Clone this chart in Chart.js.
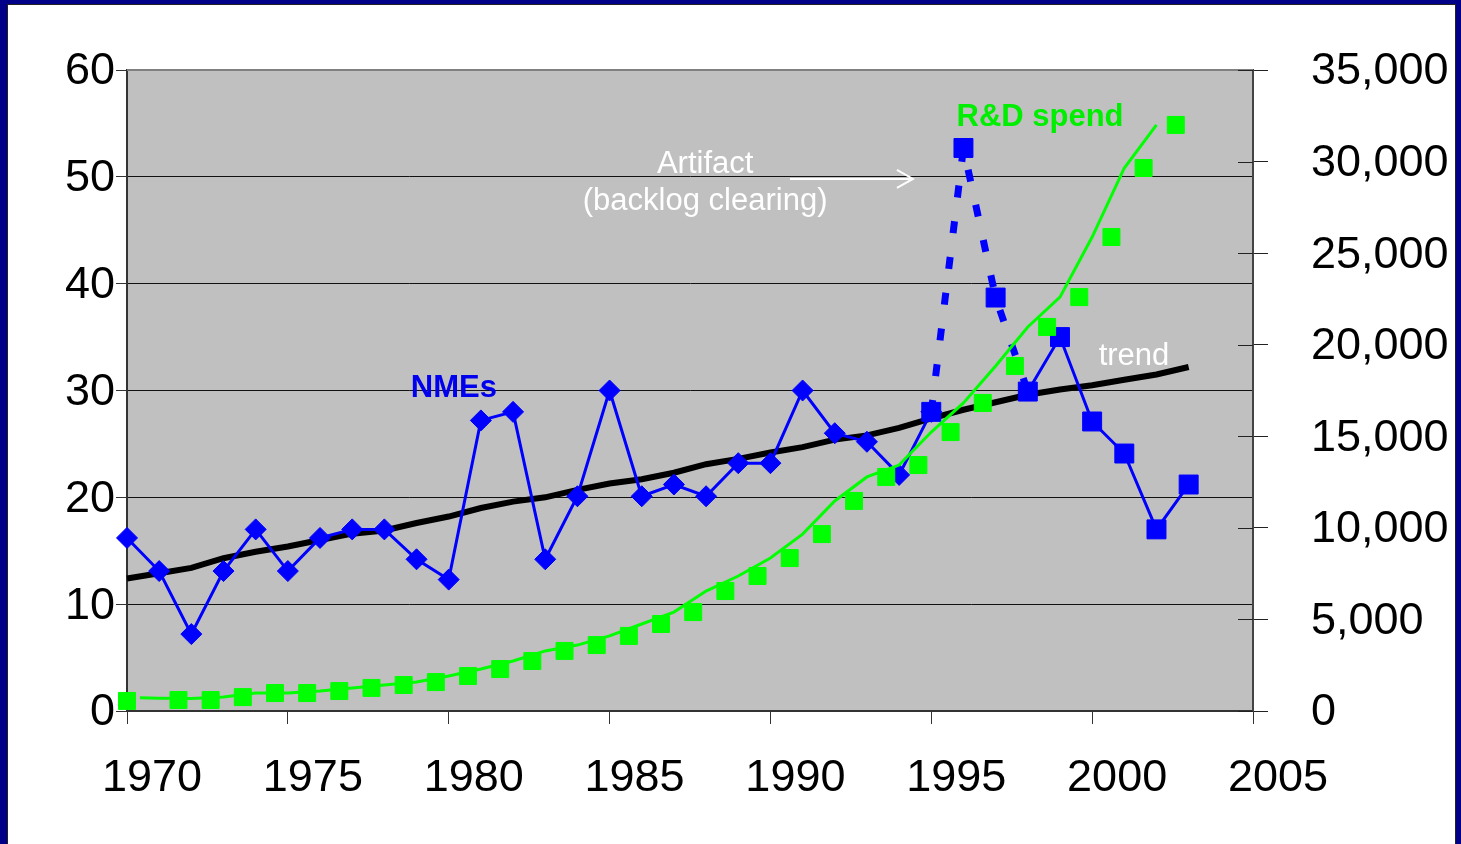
<!DOCTYPE html>
<html>
<head>
<meta charset="utf-8">
<title>NMEs and R&amp;D spend</title>
<script src="https://cdn.jsdelivr.net/npm/chart.js@4.4.1/dist/chart.umd.min.js"></script>
<style>
  html, body { margin: 0; padding: 0; }
  body { background: #000088; width: 1461px; height: 844px; overflow: hidden; position: relative; }
  #panel { position: absolute; left: 7px; top: 4px; width: 1447px; height: 900px; background: #fff; border: 1px solid #222; }
  #chart { position: absolute; left: 0; top: 0; }
</style>
</head>
<body>
<div id="panel"></div>
<canvas id="chart" width="1461" height="844"></canvas>
<script>
// NMEs per year (left axis), up to 1995 drawn with diamonds
const nmeYears = [1970, 1971, 1972, 1973, 1974, 1975, 1976, 1977, 1978, 1979, 1980, 1981, 1982,
                  1983, 1984, 1985, 1986, 1987, 1988, 1989, 1990, 1991, 1992, 1993, 1994, 1995];
const nmeCounts = [16.2, 13.1, 7.2, 13.1, 17, 13.1, 16.2, 17, 17, 14.2, 12.3, 27.2, 28,
                   14.2, 20.1, 30, 20.1, 21.2, 20.1, 23.2, 23.2, 30, 26, 25.2, 22.1, 28];

// later NMEs (squares), 1995-1998 is the backlog artifact (dashed)
const lateYears = [1995, 1996, 1997, 1998, 1999, 2000, 2001, 2002, 2003];
const lateCounts = [28, 52.7, 38.7, 29.9, 35, 27.1, 24.1, 17, 21.2];
const artifactEnd = 1998;

// trend line (left axis)
const trendYears = [1970, 1971, 1972, 1973, 1974, 1975, 1976, 1977, 1978, 1979, 1980, 1981,
                    1982, 1983, 1984, 1985, 1986, 1987, 1988, 1989, 1990, 1991, 1992, 1993,
                    1994, 1995, 1996, 1997, 1998, 1999, 2000, 2001, 2002, 2003];
const trendValues = [12.4, 12.9, 13.4, 14.3, 14.9, 15.4, 16.0, 16.6, 16.9, 17.6, 18.2, 19.0,
                     19.6, 20.0, 20.7, 21.3, 21.7, 22.3, 23.1, 23.6, 24.2, 24.7, 25.4, 25.8,
                     26.5, 27.4, 28.2, 28.9, 29.6, 30.1, 30.5, 31.0, 31.5, 32.2];

// R&D spend (right axis) - line at the year, squares plotted a bit later
const rdYears = [1970.4, 1971, 1972, 1973, 1974, 1975, 1976, 1977, 1978, 1979, 1980, 1981, 1982,
                 1983, 1984, 1985, 1986, 1987, 1988, 1989, 1990, 1991, 1992, 1993, 1994,
                 1995, 1996, 1997, 1998, 1999, 2000, 2001, 2002];
const rdSpend = [720, 700, 680, 760, 980, 980, 1090, 1260, 1420, 1580, 1910, 2290, 2730,
                 3280, 3600, 4100, 4750, 5400, 6550, 7370, 8350, 9660, 11470, 12780, 13430,
                 15230, 16820, 18840, 20970, 22600, 25880, 29650, 32000];
const rdSquareYears = [1970, 1971.6, 1972.6, 1973.6, 1974.6, 1975.6, 1976.6, 1977.6, 1978.6,
                       1979.6, 1980.6, 1981.6, 1982.6, 1983.6, 1984.6, 1985.6, 1986.6, 1987.6,
                       1988.6, 1989.6, 1990.6, 1991.6, 1992.6, 1993.6, 1994.6, 1995.6, 1996.6,
                       1997.6, 1998.6, 1999.6, 2000.6, 2001.6, 2002.6];
const rdSquareSpend = [550, 600, 600, 760, 980, 980, 1090, 1260, 1420, 1580, 1910, 2290, 2730,
                       3280, 3600, 4100, 4750, 5400, 6550, 7370, 8350, 9660, 11470, 12780, 13430,
                       15230, 16820, 18840, 20970, 22600, 25880, 29650, 32000];

const xTicks = [1970, 1975, 1980, 1985, 1990, 1995, 2000, 2005];

const FONT = "'Liberation Sans', Arial, sans-serif";
const tickFont = { family: FONT, size: 45 };

const pts = (xs, ys) => xs.map((x, i) => ({ x: x, y: ys[i] }));

//plot background, top border, inner half of right ticks, text notes and arrow
const decorations = {
    id: "decorations",
    beforeDraw(chart) {
        const a = chart.chartArea;
        const ctx = chart.ctx;
        ctx.save();
        ctx.fillStyle = "#c0c0c0";
        ctx.fillRect(a.left, a.top, a.right - a.left, a.bottom - a.top);
        ctx.restore();
    },
    afterDraw(chart) {
        const a = chart.chartArea;
        const ctx = chart.ctx;
        const x = chart.scales.x;
        const y = chart.scales.y;
        const yR = chart.scales.yR;

        ctx.save();
        //top border
        ctx.strokeStyle = "#808080";
        ctx.lineWidth = 2;
        ctx.beginPath();
        ctx.moveTo(a.left, a.top);
        ctx.lineTo(a.right, a.top);
        ctx.stroke();

        //right axis ticks cross the axis
        ctx.strokeStyle = "#222";
        ctx.lineWidth = 1;
        yR.ticks.forEach((t) => {
            const py = Math.round(yR.getPixelForValue(t.value)) + 0.5;
            ctx.beginPath();
            ctx.moveTo(a.right - 15, py);
            ctx.lineTo(a.right, py);
            ctx.stroke();
        });

        //text notes
        const notes = [
            { text: "NMEs", at: [1980.16, 29.4], color: "#0000ee", bold: true },
            { text: "R&D spend", at: [1998.38, 54.8], color: "#00ee00", bold: true },
            { text: "Artifact", at: [1987.97, 50.4], color: "#ffffff", bold: false },
            { text: "(backlog clearing)", at: [1987.97, 46.9], color: "#ffffff", bold: false },
            { text: "trend", at: [2001.3, 32.4], color: "#ffffff", bold: false },
        ];
        ctx.textAlign = "center";
        ctx.textBaseline = "alphabetic";
        notes.forEach((n) => {
            ctx.font = (n.bold ? "bold " : "") + "31px " + FONT;
            ctx.fillStyle = n.color;
            ctx.fillText(n.text, x.getPixelForValue(n.at[0]), y.getPixelForValue(n.at[1]));
        });

        //arrow to the artifact
        const ax0 = x.getPixelForValue(1990.61);
        const ax1 = x.getPixelForValue(1994.43);
        const ay = y.getPixelForValue(49.8);
        ctx.strokeStyle = "#ffffff";
        ctx.lineWidth = 2;
        ctx.beginPath();
        ctx.moveTo(ax0, ay);
        ctx.lineTo(ax1, ay);
        ctx.moveTo(ax1 - 16, ay - 9);
        ctx.lineTo(ax1, ay);
        ctx.lineTo(ax1 - 16, ay + 9);
        ctx.stroke();
        ctx.restore();
    },
};

const isArtifact = (ctx) => ctx.p1.parsed.x <= artifactEnd;

const chart = new Chart(document.getElementById("chart"), {
    type: "line",
    data: {
        datasets: [
            {
                label: "R&D spend (squares)",
                data: pts(rdSquareYears, rdSquareSpend),
                yAxisID: "yR",
                showLine: false,
                pointStyle: "rect",
                pointRadius: 12,
                pointBorderWidth: 1,
                pointBackgroundColor: "#00ff00",
                pointBorderColor: "#00ff00",
                clip: false,
            },
            {
                label: "R&D spend",
                data: pts(rdYears, rdSpend),
                yAxisID: "yR",
                borderColor: "#00ff00",
                borderWidth: 3,
                pointRadius: 0,
                tension: 0,
                clip: false,
            },
            {
                label: "NMEs (late)",
                data: pts(lateYears, lateCounts),
                yAxisID: "y",
                borderColor: "#0000ff",
                borderWidth: 3,
                pointStyle: "rect",
                pointRadius: 13.4,
                pointBorderWidth: 1,
                pointBackgroundColor: "#0000ff",
                pointBorderColor: "#0000ff",
                segment: {
                    borderDash: (ctx) => (isArtifact(ctx) ? [12, 24] : undefined),
                    borderWidth: (ctx) => (isArtifact(ctx) ? 7 : 3),
                },
                borderCapStyle: "butt",
                clip: false,
            },
            {
                label: "NMEs",
                data: pts(nmeYears, nmeCounts),
                yAxisID: "y",
                borderColor: "#0000ff",
                borderWidth: 3,
                pointStyle: "rectRot",
                pointRadius: 10.5,
                pointBorderWidth: 1,
                pointBackgroundColor: "#0000ff",
                pointBorderColor: "#0000ff",
                clip: false,
            },
            {
                label: "trend",
                data: pts(trendYears, trendValues),
                yAxisID: "y",
                borderColor: "#000000",
                borderWidth: 6,
                pointRadius: 0,
                clip: false,
            },
        ],
    },
    options: {
        responsive: false,
        animation: false,
        devicePixelRatio: 1,
        events: [],
        layout: { padding: { top: 70, left: 0, right: 0, bottom: 0 } },
        plugins: {
            legend: { display: false },
            tooltip: { enabled: false },
        },
        scales: {
            x: {
                type: "linear",
                min: 1970,
                max: 2005,
                afterFit: (s) => { s.height = 133; },
                afterBuildTicks: (s) => { s.ticks = xTicks.map((v) => ({ value: v })); },
                ticks: {
                    callback: (v) => String(v),
                    font: tickFont,
                    color: "#000",
                    padding: 28,
                    labelOffset: 25,
                    maxRotation: 0,
                    autoSkip: false,
                },
                grid: { drawOnChartArea: false, tickLength: 13, tickColor: "#333", lineWidth: 1 },
                border: { color: "#333", width: 2 },
            },
            y: {
                position: "left",
                min: 0,
                max: 60,
                afterFit: (s) => { s.width = 127; },
                ticks: { stepSize: 10, font: tickFont, color: "#000", padding: 1, labelOffset: 2 },
                grid: { color: "#111", lineWidth: 1, tickLength: 11, tickColor: "#333" },
                border: { color: "#333", width: 2 },
            },
            yR: {
                position: "right",
                min: 0,
                max: 35000,
                afterFit: (s) => { s.width = 208; },
                ticks: {
                    stepSize: 5000,
                    font: tickFont,
                    color: "#000",
                    padding: 43,
                    labelOffset: 2,
                    callback: (v) => v.toLocaleString("en-US"),
                },
                grid: { drawOnChartArea: false, tickLength: 15, tickColor: "#222", lineWidth: 1 },
                border: { color: "#444", width: 2 },
            },
        },
    },
    plugins: [decorations],
});
</script>
</body>
</html>
